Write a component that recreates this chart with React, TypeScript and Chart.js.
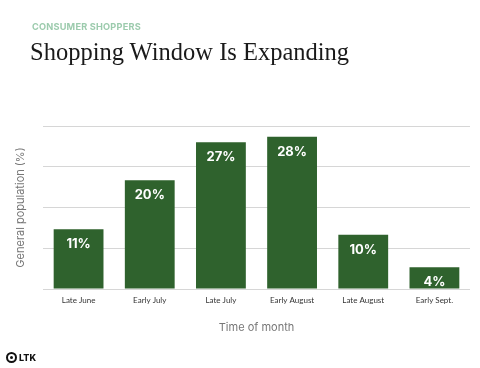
import React, { useEffect, useRef } from "react";
import { Chart, registerables } from "chart.js";

Chart.register(...registerables);

const categories = ["Late June", "Early July", "Late July", "Early August", "Late August", "Early Sept."];
const values = [11, 20, 27, 28, 10, 4];
const valueLabels = ["11%", "20%", "27%", "28%", "10%", "4%"];
const yMax = 30;
const yStep = 7.5;

const barColor = "#2f622d";

const dataLabelPlugin = {
  id: "dataLabels",
  afterDatasetsDraw(chart: any) {
    const ctx = chart.ctx;
    const meta = chart.getDatasetMeta(0);
    ctx.save();
    ctx.fillStyle = "#ffffff";
    ctx.font = "bold 13px Inter, Lato, sans-serif";
    ctx.textAlign = "center";
    ctx.textBaseline = "middle";
    meta.data.forEach((bar: any, i: number) => {
      ctx.fillText(valueLabels[i], bar.x, bar.y + 15);
    });
    ctx.restore();
  },
};

export default function App() {
  const ref = useRef<HTMLCanvasElement | null>(null);
  useEffect(() => {
    if (!ref.current) return;
    const chart = new Chart(ref.current, {
      type: "bar",
      data: {
        labels: categories,
        datasets: [
          {
            data: values,
            backgroundColor: barColor,
            borderWidth: 0,
            barPercentage: 0.7,
            categoryPercentage: 1,
          },
        ],
      },
      options: {
        animation: false,
        responsive: false,
        maintainAspectRatio: false,
        layout: { padding: { top: 126, left: 14, right: 10, bottom: 34 } },
        plugins: { legend: { display: false }, tooltip: { enabled: false } },
        scales: {
          x: {
            grid: { display: false, drawTicks: false },
            border: { display: false },
            ticks: { color: "#333", font: { size: 8, family: "Lato, sans-serif" }, padding: 7 },
            title: {
              display: true,
              text: "Time of month",
              color: "#777",
              font: { size: 11, family: "Inter, Lato, sans-serif" },
              padding: { top: 10, bottom: 0 },
            },
            afterFit: (scale: any) => {
              scale.height = 45;
            },
          },
          y: {
            min: 0,
            max: yMax,
            ticks: { display: false, stepSize: yStep },
            grid: { color: "#d6d6d6", drawTicks: false, lineWidth: 1 },
            border: { display: false },
            title: {
              display: true,
              text: "General population (%)",
              color: "#777",
              font: { size: 11, family: "Inter, Lato, sans-serif" },
              padding: { top: 0, bottom: 0 },
            },
            afterFit: (scale: any) => {
              scale.width = 29;
            },
          },
        },
      },
      plugins: [dataLabelPlugin],
    });
    return () => chart.destroy();
  }, []);

  return (
    <div style={{ position: "absolute", left: 0, top: 0, width: 480, height: 368, background: "#fff", overflow: "hidden" }}>
      <canvas ref={ref} width={480} height={368} style={{ position: "absolute", left: 0, top: 0 }} />
      <div
        style={{
          position: "absolute",
          left: 32,
          top: 21,
          fontFamily: "Inter, Lato, sans-serif",
          fontWeight: 700,
          fontSize: 9.2,
          color: "#9ccbad",
          letterSpacing: 0.2,
          whiteSpace: "nowrap",
        }}
      >
        CONSUMER SHOPPERS
      </div>
      <div
        style={{
          position: "absolute",
          left: 30,
          top: 38,
          fontFamily: "'Liberation Serif', 'Times New Roman', serif",
          fontSize: 24.5,
          color: "#1a1a1a",
          whiteSpace: "nowrap",
        }}
      >
        Shopping Window Is Expanding
      </div>
      <div style={{ position: "absolute", left: 6, top: 352, display: "flex", alignItems: "center", gap: 2 }}>
        <div
          style={{
            width: 7,
            height: 7,
            borderRadius: "50%",
            border: "2px solid #111",
            display: "flex",
            alignItems: "center",
            justifyContent: "center",
          }}
        >
          <div style={{ width: 3, height: 3, borderRadius: "50%", background: "#111" }} />
        </div>
        <span style={{ fontFamily: "Inter, Lato, sans-serif", fontWeight: 800, fontSize: 9, color: "#111" }}>LTK</span>
      </div>
    </div>
  );
}
